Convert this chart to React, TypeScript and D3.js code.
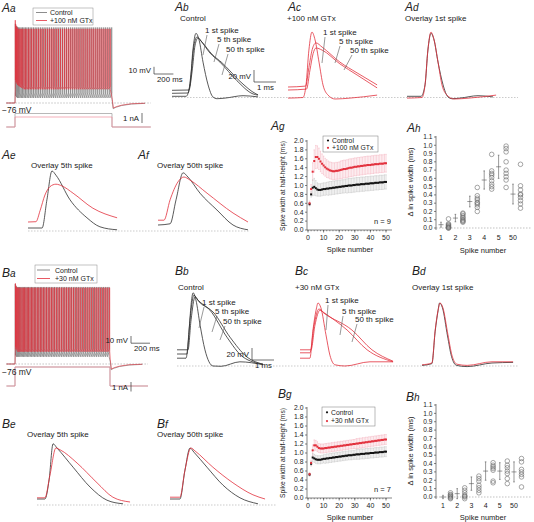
import React from 'react';
import * as d3 from 'd3';

const FONT = "'Liberation Sans', Arial, Helvetica, sans-serif";
const RED = '#e2303c';
const PINK = '#f5b6c1';
const TRAIN_GRAY = '#707070';
const DARK = '#2e2e2e';
const BAR_GRAY = '#c6c6c6';

// ---------- Aa / Ba : spike trains (time ms, membrane mV) ----------
const aaCtrlSpikeTimes = [4, 13, 24, 36, 49, 63, 77, 92, 107, 123, 139, 156, 173, 190, 208, 226, 244, 262, 281, 300, 319, 338, 357, 376, 395, 414, 433, 453, 472, 492, 512, 531, 551, 571, 591, 611, 631, 651, 671, 691, 711, 731, 751, 772, 792, 812, 833, 853, 874, 894, 915, 935, 956, 977, 997];
const aaCtrlPeaks = [34, 31, 30];
const aaCtrlAhps = [-66, -68];
const aaGtxSpikeTimes = [3, 9, 16, 24, 33, 43, 54, 66, 79, 93, 107, 122, 138, 154, 171, 188, 205, 223, 241, 259, 277, 296, 315, 334, 353, 372, 391, 410, 430, 449, 469, 489, 509, 528, 548, 568, 588, 609, 629, 649, 669, 690, 710, 731, 751, 772, 793, 813, 834, 855, 876, 897, 918, 939, 960, 981];
const aaGtxPeaks = [39, 33, 30, 29];
const aaGtxAhps = [-44, -47, -49, -51, -52, -53, -54, -55, -56];
const aaCtrlPost = [[1003, -74], [1012, -84], [1040, -82], [1100, -79.5], [1200, -77.5], [1340, -76.5]];
const aaGtxPost = [[1003, -71], [1014, -83], [1045, -81], [1100, -79], [1200, -77], [1340, -76.3]];
const aaCurrentCtrl = [[-90, 0], [0, 0], [0, 1.35], [1000, 1.35], [1000, 0], [1400, 0]];
const aaCurrentGtx = [[-90, 0], [0, 0], [0, 1], [1000, 1], [1000, 0], [1400, 0]];

const baCtrlSpikeTimes = [3, 13, 24, 36, 48, 61, 74, 87, 101, 115, 129, 143, 158, 173, 188, 203, 218, 234, 250, 266, 282, 298, 314, 331, 348, 365, 382, 399, 416, 433, 451, 469, 487, 505, 523, 541, 559, 577, 595, 613, 631, 649, 667, 685, 704, 723, 742, 761, 780, 799, 818, 837, 856, 875, 894, 913, 932, 951, 970, 989];
const baCtrlPeaks = [35, 32];
const baCtrlAhps = [-64];
const baGtxSpikeTimes = [4, 9, 17, 27, 38, 50, 62, 75, 88, 101, 115, 129, 143, 158, 173, 188, 203, 219, 235, 251, 267, 283, 299, 316, 333, 350, 367, 384, 401, 418, 436, 454, 472, 490, 508, 526, 544, 562, 580, 598, 616, 635, 654, 673, 692, 711, 730, 749, 768, 787, 806, 825, 844, 863, 882, 901, 920, 939, 958, 977, 996];
const baGtxPeaks = [36, 33, 31];
const baGtxAhps = [-52, -55, -57];
const baCtrlPost = [[1003, -73], [1012, -84], [1040, -82], [1100, -79.5], [1200, -77.5], [1340, -76.5]];
const baGtxPost = [[1003, -70], [1014, -83], [1045, -81], [1100, -79], [1200, -77], [1340, -76.3]];
const baCurrentCtrl = [[-90, 0], [0, 0], [0, 2], [1000, 2], [1000, 0], [1400, 0]];
const baCurrentGtx = [[-90, 0], [0, 0], [0, 2], [1000, 2], [1000, 0], [1400, 0]];

// ---------- overlay spike waveforms ([ms, mV]) ----------
const ovCtrlA1 = [[0, -68], [0.64, -68], [0.82, -49], [0.95, 9], [1.09, 37], [1.23, 26], [1.41, -11], [1.64, -49], [1.86, -69], [2.05, -72], [2.41, -71], [3.23, -67], [3.91, -69]];
const ovCtrlA5 = [[0, -63], [0.73, -62.5], [0.86, -32], [1.0, 17], [1.14, 31], [1.32, 24], [1.73, 4], [2.18, -11], [2.95, -42], [3.68, -64], [3.91, -66]];
const ovCtrlA50 = [[0, -58], [0.77, -57.5], [0.91, -27.5], [1.05, 17.5], [1.18, 29], [1.36, 22.5], [1.82, 2], [2.27, -12], [3.09, -43], [3.82, -64], [3.91, -65.5]];
const ovGtxA1 = [[0, -71], [0.68, -70], [0.82, -49], [0.95, 9], [1.09, 39], [1.23, 26], [1.41, -11], [1.59, -49], [1.82, -66], [2.14, -72.5], [2.82, -71], [4.05, -66]];
const ovGtxA5 = [[0, -52.5], [0.8, -51], [0.95, -20], [1.1, 10], [1.27, 21], [1.55, 14], [2.36, -11], [3.14, -29], [4.05, -49]];
const ovGtxA50 = [[0, -57.5], [0.84, -56], [1.0, -24], [1.14, 3], [1.27, 12.5], [1.55, 9], [2.36, -14], [3.14, -32.5], [4.05, -54]];
const ovCtrlAe = [[0, -65], [0.64, -65], [0.86, -18], [1.09, 30], [1.27, 23], [1.91, -18], [2.68, -48], [3.27, -63], [4.05, -68]];
const ovGtxAe = [[0, -55], [0.36, -54.5], [0.55, -36], [0.77, -10], [1.0, 4], [1.27, 8], [1.55, 5], [2.05, -7], [2.95, -32], [4.05, -48]];
const ovCtrlAf = [[0, -60], [0.55, -58], [0.82, -18], [1.14, 27], [1.36, 20], [1.91, -7], [2.68, -35], [3.41, -60], [4.09, -68]];
const ovGtxAf = [[0, -52], [0.27, -52], [0.55, -18], [0.91, 12], [1.18, 20], [1.45, 15], [2.23, -7], [3.41, -40], [4.09, -55]];
const ovCtrlB1 = [[0, -57], [0.41, -57], [0.55, -10], [0.64, 32], [0.73, 52], [0.86, 40], [1.05, -2], [1.27, -43], [1.64, -70], [2.0, -70.5], [2.86, -63], [3.91, -68]];
const ovCtrlB5 = [[0, -50], [0.45, -50], [0.59, 7], [0.77, 48], [0.95, 40], [1.5, 23], [2.27, -22], [3.0, -55], [3.91, -67]];
const ovCtrlB50 = [[0, -43], [0.5, -43], [0.64, 7], [0.82, 45], [1.0, 37], [1.64, 20], [2.41, -22], [3.18, -55], [3.91, -67]];
const ovGtxB1 = [[0, -57], [0.45, -57], [0.59, -10], [0.73, 23], [0.82, 35], [0.95, 27], [1.18, -18], [1.36, -52], [1.59, -68], [2.05, -70], [3.18, -63], [4.23, -63]];
const ovGtxB5 = [[0, -48], [0.45, -48], [0.64, -2], [0.86, 25], [1.05, 20], [2.14, -10], [3.05, -43], [4.23, -63]];
const ovGtxB50 = [[0, -43], [0.5, -43], [0.68, -2], [0.91, 23], [1.09, 18], [2.36, -10], [3.27, -43], [4.23, -62]];
const ovCtrlBd = [[0, -69], [0.45, -66], [0.6, -12], [0.73, 22], [0.8, 35], [0.93, 27], [1.16, -20], [1.34, -54], [1.57, -69], [2.05, -71], [3.18, -65], [4.14, -64]];
const ovGtxBd = [[0, -68], [0.45, -65], [0.6, -10], [0.73, 23], [0.82, 35], [0.95, 27], [1.18, -18], [1.36, -52], [1.59, -67], [2.05, -69], [3.18, -63], [4.14, -63]];
const ovCtrlBe = [[0, -60], [0.36, -60], [0.55, -28], [0.73, 32], [0.91, 25], [1.64, -7], [2.41, -40], [3.18, -62], [3.91, -68]];
const ovGtxBe = [[0, -58], [0.36, -58], [0.59, -20], [0.86, 25], [1.05, 22], [1.82, 0], [2.73, -33], [3.45, -57], [4.23, -65]];
const ovCtrlBf = [[0, -60], [0.45, -60], [0.68, -12], [0.91, 25], [1.09, 18], [1.68, -7], [2.41, -37], [3.18, -58], [4.0, -68]];
const ovGtxBf = [[0, -57], [0.45, -57], [0.68, -12], [0.95, 25], [1.14, 20], [1.95, -7], [2.86, -33], [3.77, -53], [4.32, -60]];

// ---------- Ag / Bg : spike width at half height (ms), spikes 1..50 ----------
const ctrlWidthA = [0.58, 0.80, 0.95, 0.97, 0.94, 0.91, 0.90, 0.90, 0.91, 0.92, 0.92, 0.93, 0.93, 0.94, 0.94, 0.95, 0.95, 0.96, 0.96, 0.97, 0.97, 0.98, 0.98, 0.99, 0.99, 1.00, 1.00, 1.00, 1.01, 1.01, 1.02, 1.02, 1.02, 1.03, 1.03, 1.03, 1.04, 1.04, 1.04, 1.05, 1.05, 1.05, 1.06, 1.06, 1.06, 1.07, 1.07, 1.07, 1.08, 1.08];
const ctrlSdA = [0.04, 0.06, 0.18, 0.19, 0.17, 0.15, 0.14, 0.14, 0.14, 0.14, 0.14, 0.14, 0.15, 0.15, 0.15, 0.15, 0.15, 0.15, 0.15, 0.15, 0.15, 0.15, 0.15, 0.15, 0.16, 0.16, 0.16, 0.16, 0.16, 0.16, 0.16, 0.16, 0.16, 0.16, 0.16, 0.16, 0.16, 0.16, 0.16, 0.16, 0.16, 0.16, 0.16, 0.16, 0.16, 0.16, 0.16, 0.16, 0.16, 0.16];
const gtxWidthA = [0.60, 0.92, 1.31, 1.55, 1.64, 1.64, 1.60, 1.54, 1.49, 1.45, 1.41, 1.38, 1.36, 1.34, 1.33, 1.32, 1.32, 1.33, 1.33, 1.34, 1.35, 1.36, 1.37, 1.37, 1.38, 1.39, 1.40, 1.40, 1.41, 1.42, 1.42, 1.43, 1.43, 1.44, 1.44, 1.45, 1.45, 1.46, 1.46, 1.46, 1.47, 1.47, 1.48, 1.48, 1.48, 1.49, 1.49, 1.49, 1.50, 1.50];
const gtxSdA = [0.05, 0.10, 0.20, 0.25, 0.26, 0.25, 0.24, 0.23, 0.22, 0.21, 0.20, 0.20, 0.19, 0.19, 0.19, 0.19, 0.19, 0.19, 0.19, 0.19, 0.20, 0.20, 0.20, 0.20, 0.20, 0.20, 0.20, 0.20, 0.20, 0.20, 0.20, 0.20, 0.20, 0.20, 0.20, 0.20, 0.20, 0.20, 0.20, 0.20, 0.20, 0.20, 0.20, 0.20, 0.20, 0.20, 0.20, 0.20, 0.20, 0.20];
const ctrlWidthB = [0.52, 0.76, 0.90, 0.88, 0.86, 0.85, 0.85, 0.85, 0.86, 0.87, 0.87, 0.88, 0.88, 0.89, 0.89, 0.90, 0.90, 0.91, 0.91, 0.92, 0.92, 0.93, 0.93, 0.94, 0.94, 0.95, 0.95, 0.95, 0.96, 0.96, 0.97, 0.97, 0.97, 0.98, 0.98, 0.98, 0.99, 0.99, 0.99, 1.00, 1.00, 1.00, 1.01, 1.01, 1.01, 1.02, 1.02, 1.02, 1.03, 1.03];
const ctrlSdB = [0.03, 0.05, 0.09, 0.09, 0.09, 0.09, 0.09, 0.09, 0.09, 0.09, 0.10, 0.10, 0.10, 0.10, 0.10, 0.10, 0.10, 0.10, 0.10, 0.10, 0.10, 0.10, 0.10, 0.10, 0.10, 0.10, 0.10, 0.10, 0.10, 0.10, 0.11, 0.11, 0.11, 0.11, 0.11, 0.11, 0.11, 0.11, 0.11, 0.11, 0.11, 0.11, 0.11, 0.11, 0.11, 0.11, 0.11, 0.11, 0.11, 0.11];
const gtxWidthB = [0.53, 0.78, 1.06, 1.17, 1.17, 1.14, 1.11, 1.10, 1.10, 1.10, 1.11, 1.11, 1.12, 1.12, 1.13, 1.13, 1.14, 1.14, 1.15, 1.15, 1.16, 1.16, 1.17, 1.17, 1.18, 1.18, 1.19, 1.19, 1.20, 1.20, 1.21, 1.21, 1.22, 1.22, 1.23, 1.23, 1.24, 1.24, 1.25, 1.25, 1.26, 1.26, 1.27, 1.27, 1.28, 1.28, 1.29, 1.29, 1.30, 1.30];
const gtxSdB = [0.04, 0.06, 0.12, 0.12, 0.11, 0.11, 0.10, 0.10, 0.10, 0.10, 0.10, 0.10, 0.10, 0.10, 0.10, 0.10, 0.10, 0.10, 0.10, 0.10, 0.10, 0.10, 0.10, 0.10, 0.10, 0.10, 0.10, 0.10, 0.10, 0.10, 0.11, 0.11, 0.11, 0.11, 0.11, 0.11, 0.11, 0.11, 0.11, 0.11, 0.11, 0.11, 0.11, 0.11, 0.11, 0.11, 0.11, 0.11, 0.11, 0.11];

// ---------- Ah / Bh : change in spike width (ms) ----------
const spikeCategories = ['1', '2', '3', '4', '5', '50'];
const deltaMeanA = [0.04, 0.12, 0.32, 0.58, 0.74, 0.41];
const deltaSdA = [0.03, 0.045, 0.065, 0.11, 0.14, 0.12];
const deltaCellsA = [
  [0.0, 0.0, 0.01, 0.01, 0.02, 0.03, 0.04, 0.05, 0.11],
  [0.07, 0.08, 0.09, 0.10, 0.12, 0.13, 0.15, 0.17, 0.18],
  [0.20, 0.25, 0.28, 0.30, 0.31, 0.34, 0.36, 0.39, 0.49],
  [0.47, 0.50, 0.53, 0.57, 0.61, 0.64, 0.66, 0.69, 0.89],
  [0.49, 0.58, 0.62, 0.66, 0.70, 0.80, 0.92, 0.96, 0.99],
  [0.24, 0.29, 0.33, 0.37, 0.40, 0.41, 0.46, 0.51, 0.77],
];
const deltaMeanB = [0.0, 0.04, 0.16, 0.31, 0.31, 0.30];
const deltaSdB = [0.02, 0.06, 0.08, 0.11, 0.10, 0.12];
const deltaCellsB = [
  [-0.02, -0.01, 0.0, 0.01, 0.02, 0.03, 0.05],
  [-0.02, 0.0, 0.01, 0.02, 0.05, 0.08, 0.11],
  [0.05, 0.08, 0.11, 0.14, 0.19, 0.22, 0.25],
  [0.17, 0.19, 0.32, 0.34, 0.36, 0.38, 0.41],
  [0.16, 0.22, 0.28, 0.31, 0.35, 0.38, 0.43],
  [0.12, 0.24, 0.27, 0.30, 0.33, 0.42, 0.46],
];

type Pt = number[];

function PanelLabel({ x, y, a, b }: { x: number; y: number; a: string; b: string }) {
  return (
    <text x={x} y={y} fontStyle="italic" fill="#222">
      <tspan fontSize={12}>{a}</tspan>
      <tspan fontSize={10}>{b}</tspan>
    </text>
  );
}

function trainPoints(times: number[], peaks: number[], peakDefault: number, ahps: number[], ahpDefault: number, rise: number, post: Pt[]) {
  const pts: Pt[] = [[-90, -76], [0, -76]];
  times.forEach((t, i) => {
    const prevAhp = i === 0 ? -64 : (ahps[i - 1] ?? ahpDefault);
    pts.push([t - 1, prevAhp + rise]);
    pts.push([t, peaks[i] ?? peakDefault]);
    pts.push([t + 1.5, ahps[i] ?? ahpDefault]);
  });
  post.forEach((p) => pts.push(p));
  return pts;
}

function TrainPanel(props: {
  x0: number; x1: number; yRest: number; yI0: number; iPx: number;
  ctrl: Pt[]; gtx: Pt[]; iCtrl: Pt[]; iGtx: Pt[];
}) {
  const { x0, x1, yRest, yI0, iPx, ctrl, gtx, iCtrl, iGtx } = props;
  const x = d3.scaleLinear().domain([0, 1000]).range([x0, x1]);
  const y = d3.scaleLinear().domain([-76, 0]).range([yRest, yRest - 76 * 0.72]);
  const yi = d3.scaleLinear().domain([0, 1]).range([yI0, yI0 - iPx]);
  const line = d3.line<Pt>().x((d) => x(d[0])).y((d) => y(d[1]));
  const iline = d3.line<Pt>().x((d) => x(d[0])).y((d) => yi(d[1]));
  return (
    <g>
      <line x1={x(-90)} x2={x(1400)} y1={y(-76)} y2={y(-76)} stroke="#9a9a9a" strokeWidth={0.6} strokeDasharray="1.5 1.5" />
      <path d={line(ctrl) || ''} fill="none" stroke={TRAIN_GRAY} strokeWidth={0.6} />
      <path d={line(gtx) || ''} fill="none" stroke={RED} strokeWidth={0.6} />
      <path d={iline(iCtrl) || ''} fill="none" stroke="#9a9a9a" strokeWidth={0.7} />
      <path d={iline(iGtx) || ''} fill="none" stroke="#ef8c9b" strokeWidth={0.7} />
    </g>
  );
}

function Overlay({ x0, yDash, traces }: { x0: number; yDash: number; traces: { d: Pt[]; c: string; w?: number }[] }) {
  const x = d3.scaleLinear().domain([0, 1]).range([x0, x0 + 22]);
  const y = d3.scaleLinear().domain([-70, 0]).range([yDash, yDash - 42]);
  const line = d3.line<Pt>().x((d) => x(d[0])).y((d) => y(d[1])).curve(d3.curveMonotoneX);
  return (
    <g>
      {traces.map((t, i) => (
        <path key={i} d={line(t.d) || ''} fill="none" stroke={t.c} strokeWidth={t.w ?? 0.8} />
      ))}
    </g>
  );
}

function ScaleBarMs({ x, y, mvLabel, mvPx, msLabel, msPx, fs }: { x: number; y: number; mvLabel: string; mvPx: number; msLabel: string; msPx: number; fs: number }) {
  return (
    <g fill="#222" fontSize={fs}>
      <path d={`M${x},${y - mvPx}V${y}H${x + msPx}`} fill="none" stroke="#333" strokeWidth={0.7} />
      <text x={x - 3} y={y - mvPx / 2 + 3} textAnchor="end">{mvLabel}</text>
      <text x={x + 3} y={y + 8}>{msLabel}</text>
    </g>
  );
}

function SpikeLabels({ items }: { items: { t: string; x: number; y: number; l: number[] }[] }) {
  return (
    <g fontSize={8} fill="#222">
      {items.map((it, i) => (
        <g key={i}>
          <text x={it.x} y={it.y}>{it.t}</text>
          <line x1={it.l[0]} y1={it.l[1]} x2={it.l[2]} y2={it.l[3]} stroke="#555" strokeWidth={0.6} />
        </g>
      ))}
    </g>
  );
}

function WidthPanel(props: {
  y0: number; y1: number; ctrl: number[]; ctrlSd: number[]; gtx: number[]; gtxSd: number[];
  gtxLabel: string; nLabel: string; legend: number[]; tickY: number; titleY: number; ylabY: number;
}) {
  const { y0, y1, ctrl, ctrlSd, gtx, gtxSd, gtxLabel, nLabel, legend, tickY, titleY, ylabY } = props;
  const x = d3.scaleLinear().domain([0, 50]).range([308, 386]);
  const y = d3.scaleLinear().domain([0, 2]).range([y0, y1]);
  const nums = d3.range(1, ctrl.length + 1);
  const yTicks = d3.range(0, 2.001, 0.2);
  const xMajor = d3.range(0, 51, 10);
  const xMinor = d3.range(0, 51, 2);
  const fmt = d3.format('.1f');
  const bars = (vals: number[], sds: number[], color: string) =>
    vals.map((v, i) => {
      const cx = x(nums[i]);
      return (
        <g key={i} stroke={color} strokeWidth={0.6}>
          <line x1={cx} x2={cx} y1={y(v - sds[i])} y2={y(v + sds[i])} />
          <line x1={cx - 0.7} x2={cx + 0.7} y1={y(v - sds[i])} y2={y(v - sds[i])} />
          <line x1={cx - 0.7} x2={cx + 0.7} y1={y(v + sds[i])} y2={y(v + sds[i])} />
        </g>
      );
    });
  return (
    <g>
      {bars(gtx, gtxSd, PINK)}
      {bars(ctrl, ctrlSd, BAR_GRAY)}
      {ctrl.map((v, i) => <rect key={'c' + i} x={x(nums[i]) - 1} y={y(v) - 1} width={2} height={2} fill="#111" />)}
      {gtx.map((v, i) => <rect key={'g' + i} x={x(nums[i]) - 1} y={y(v) - 1} width={2} height={2} fill={RED} />)}
      <line x1={307} x2={307} y1={y(2) - 1} y2={y(0)} stroke="#333" strokeWidth={0.6} />
      <line x1={307} x2={392} y1={y(0)} y2={y(0)} stroke="#333" strokeWidth={0.6} />
      {yTicks.map((t, i) => (
        <g key={i}>
          <line x1={305} x2={307} y1={y(t)} y2={y(t)} stroke="#333" strokeWidth={0.6} />
          <text x={303.5} y={y(t) + 2.3} fontSize={6.8} textAnchor="end" fill="#222">{fmt(t)}</text>
        </g>
      ))}
      {xMinor.map((t, i) => <line key={i} x1={x(t)} x2={x(t)} y1={y(0)} y2={y(0) + 1.3} stroke="#333" strokeWidth={0.5} />)}
      {xMajor.map((t, i) => (
        <g key={i}>
          <line x1={x(t)} x2={x(t)} y1={y(0)} y2={y(0) + 2.5} stroke="#333" strokeWidth={0.6} />
          <text x={x(t)} y={tickY} fontSize={7} textAnchor="middle" fill="#222">{t}</text>
        </g>
      ))}
      <text x={350} y={titleY} fontSize={7.5} textAnchor="middle" fill="#222">Spike number</text>
      <text transform={`translate(285,${ylabY}) rotate(-90)`} fontSize={6.7} textAnchor="middle" fill="#222">Spike width at half-height (ms)</text>
      <rect x={legend[0]} y={legend[1]} width={legend[2]} height={legend[3]} fill="#fff" stroke="#777" strokeWidth={0.5} />
      <circle cx={legend[0] + 5} cy={legend[1] + legend[3] * 0.28} r={1.1} fill="#111" />
      <text x={legend[0] + 9} y={legend[1] + legend[3] * 0.28 + 2.3} fontSize={6.8} fill="#222">Control</text>
      <circle cx={legend[0] + 5} cy={legend[1] + legend[3] * 0.74} r={1.1} fill={RED} />
      <text x={legend[0] + 9} y={legend[1] + legend[3] * 0.74 + 2.3} fontSize={6.8} fill="#222">{gtxLabel}</text>
      <text x={374} y={y(0) - 6} fontSize={7.5} fill="#222">{nLabel}</text>
    </g>
  );
}

function DeltaPanel(props: { y0: number; y1: number; xr: number[]; means: number[]; sds: number[]; cells: number[][]; tickY: number; titleY: number; ylabY: number }) {
  const { y0, y1, xr, means, sds, cells, tickY, titleY, ylabY } = props;
  const x = d3.scalePoint<string>().domain(spikeCategories).range([xr[0], xr[1]]);
  const y = d3.scaleLinear().domain([0, 1.1]).range([y0, y1]);
  const ticks = d3.range(0, 1.1001, 0.1);
  const fmt = d3.format('.1f');
  return (
    <g>
      <line x1={436} x2={532} y1={y(0)} y2={y(0)} stroke="#999" strokeWidth={0.6} strokeDasharray="1.5 1.5" />
      <line x1={436} x2={436} y1={y(1.1) - 1} y2={y(0) + 2} stroke="#333" strokeWidth={0.6} />
      {ticks.map((t, i) => (
        <g key={i}>
          <line x1={434} x2={436} y1={y(t)} y2={y(t)} stroke="#333" strokeWidth={0.6} />
          <text x={432.5} y={y(t) + 2.3} fontSize={6.6} textAnchor="end" fill="#222">{fmt(t)}</text>
        </g>
      ))}
      {spikeCategories.map((c, i) => {
        const cx = x(c) as number;
        return (
          <g key={c}>
            <text x={cx} y={tickY} fontSize={7} textAnchor="middle" fill="#222">{c}</text>
            <g stroke="#555" strokeWidth={0.6}>
              <line x1={cx} x2={cx} y1={y(means[i] - sds[i])} y2={y(means[i] + sds[i])} />
              <line x1={cx - 2.5} x2={cx + 2.5} y1={y(means[i])} y2={y(means[i])} />
              <line x1={cx - 0.8} x2={cx + 0.8} y1={y(means[i] - sds[i])} y2={y(means[i] - sds[i])} />
              <line x1={cx - 0.8} x2={cx + 0.8} y1={y(means[i] + sds[i])} y2={y(means[i] + sds[i])} />
            </g>
            {cells[i].map((v, j) => (
              <circle key={j} cx={cx + 7.5} cy={y(v)} r={2.3} fill="none" stroke="#6a6a6a" strokeWidth={0.6} />
            ))}
          </g>
        );
      })}
      <text x={483} y={titleY} fontSize={7.5} textAnchor="middle" fill="#222">Spike number</text>
      <text transform={`translate(413,${ylabY}) rotate(-90)`} fontSize={7.5} textAnchor="middle" fill="#222">Δ in spike width (ms)</text>
    </g>
  );
}

export default function App() {
  const aaCtrl = trainPoints(aaCtrlSpikeTimes, aaCtrlPeaks, 29, aaCtrlAhps, -69, 7, aaCtrlPost);
  const aaGtx = trainPoints(aaGtxSpikeTimes, aaGtxPeaks, 27, aaGtxAhps, -57, 4, aaGtxPost);
  const baCtrl = trainPoints(baCtrlSpikeTimes, baCtrlPeaks, 31, baCtrlAhps, -66, 6, baCtrlPost);
  const baGtx = trainPoints(baGtxSpikeTimes, baGtxPeaks, 30, baGtxAhps, -59, 4, baGtxPost);
  const dash = (x1: number, x2: number, yy: number) => (
    <line x1={x1} x2={x2} y1={yy} y2={yy} stroke="#a8a8a8" strokeWidth={0.6} strokeDasharray="1.5 1.5" />
  );
  return (
    <svg width={534} height={522} viewBox="0 0 534 522" fontFamily={FONT}
      style={{ position: 'absolute', left: 0, top: 0, background: '#fff' }}>
      <rect width={534} height={522} fill="#fff" />

      {/* ================= Row A ================= */}
      <PanelLabel x={2} y={12} a="A" b="a" />
      <TrainPanel x0={15} x1={112} yRest={103} yI0={127} iPx={10} ctrl={aaCtrl} gtx={aaGtx} iCtrl={aaCurrentCtrl} iGtx={aaCurrentGtx} />
      <rect x={33} y={8} width={60} height={17} fill="#fff" stroke="#888" strokeWidth={0.5} />
      <line x1={36} x2={47} y1={12.5} y2={12.5} stroke={TRAIN_GRAY} strokeWidth={0.8} />
      <line x1={36} x2={47} y1={20.5} y2={20.5} stroke={RED} strokeWidth={0.8} />
      <text x={50} y={15} fontSize={7} fill="#222">Control</text>
      <text x={50} y={23} fontSize={7} fill="#222">+100 nM GTx</text>
      <text x={2} y={113} fontSize={8.5} fill="#222">−76 mV</text>
      <ScaleBarMs x={154} y={74} mvLabel="10 mV" mvPx={7.2} msLabel="200 ms" msPx={19.4} fs={7.8} />
      <line x1={142} x2={142} y1={113} y2={123} stroke="#333" strokeWidth={0.7} />
      <text x={139} y={121} fontSize={7.8} textAnchor="end" fill="#222">1 nA</text>

      <PanelLabel x={175} y={10.5} a="A" b="b" />
      <text x={180} y={21} fontSize={8} fill="#222">Control</text>
      {dash(172, 518, 97.5)}
      <Overlay x0={172} yDash={97.5} traces={[{ d: ovCtrlA1, c: DARK }, { d: ovCtrlA5, c: DARK }, { d: ovCtrlA50, c: DARK }]} />
      <SpikeLabels items={[
        { t: '1 st spike', x: 205, y: 33, l: [207, 35, 203, 55] },
        { t: '5 th spike', x: 217, y: 42, l: [219, 44, 214, 62] },
        { t: '50 th spike', x: 226, y: 52, l: [228, 54, 222, 75] },
      ]} />
      <ScaleBarMs x={254} y={82} mvLabel="20 mV" mvPx={12} msLabel="1 ms" msPx={22} fs={7.8} />

      <PanelLabel x={288} y={10.5} a="A" b="c" />
      <text x={287} y={21} fontSize={8} fill="#222">+100 nM GTx</text>
      <Overlay x0={288} yDash={97.5} traces={[{ d: ovGtxA1, c: RED }, { d: ovGtxA5, c: RED }, { d: ovGtxA50, c: RED }]} />
      <SpikeLabels items={[
        { t: '1 st spike', x: 323, y: 35, l: [325, 37, 322, 63] },
        { t: '5 th spike', x: 339, y: 44, l: [340, 46, 335, 63] },
        { t: '50 th spike', x: 350, y: 53, l: [352, 55, 344, 70] },
      ]} />

      <PanelLabel x={405} y={10.5} a="A" b="d" />
      <text x={405} y={21} fontSize={8} fill="#222">Overlay 1st spike</text>
      <Overlay x0={407} yDash={97.5} traces={[{ d: ovCtrlA1, c: DARK }, { d: ovGtxA1, c: RED }]} />

      {/* Ae / Af */}
      <PanelLabel x={2} y={159} a="A" b="e" />
      <text x={31} y={167.5} fontSize={8} fill="#222">Overlay 5th spike</text>
      {dash(28, 250, 231)}
      <Overlay x0={28} yDash={231} traces={[{ d: ovCtrlAe, c: DARK }, { d: ovGtxAe, c: RED }]} />
      <PanelLabel x={138} y={159} a="A" b="f" />
      <text x={157} y={167.5} fontSize={8} fill="#222">Overlay 50th spike</text>
      <Overlay x0={158} yDash={231} traces={[{ d: ovCtrlAf, c: DARK }, { d: ovGtxAf, c: RED }]} />

      {/* Ag / Ah */}
      <PanelLabel x={271} y={130} a="A" b="g" />
      <WidthPanel y0={230} y1={141} ctrl={ctrlWidthA} ctrlSd={ctrlSdA} gtx={gtxWidthA} gtxSd={gtxSdA}
        gtxLabel="+100 nM GTx" nLabel="n = 9" legend={[323, 136, 55, 16]} tickY={239.5} titleY={252} ylabY={186} />
      <PanelLabel x={407} y={132} a="A" b="h" />
      <DeltaPanel y0={228} y1={137} xr={[441, 513]} means={deltaMeanA} sds={deltaSdA} cells={deltaCellsA} tickY={240} titleY={253} ylabY={182} />

      {/* ================= Row B ================= */}
      <PanelLabel x={2} y={277} a="B" b="a" />
      <TrainPanel x0={15} x1={110} yRest={364} yI0={386} iPx={9.5} ctrl={baCtrl} gtx={baGtx} iCtrl={baCurrentCtrl} iGtx={baCurrentGtx} />
      <rect x={35} y={265} width={62} height={18} fill="#fff" stroke="#888" strokeWidth={0.5} />
      <line x1={37} x2={50} y1={270} y2={270} stroke={TRAIN_GRAY} strokeWidth={0.8} />
      <line x1={37} x2={50} y1={278.5} y2={278.5} stroke={RED} strokeWidth={0.8} />
      <text x={55} y={272.5} fontSize={7} fill="#222">Control</text>
      <text x={55} y={281} fontSize={7} fill="#222">+30 nM GTx</text>
      <text x={2} y={375} fontSize={8.5} fill="#222">−76 mV</text>
      <ScaleBarMs x={131} y={343.2} mvLabel="10 mV" mvPx={7.2} msLabel="200 ms" msPx={19} fs={7.8} />
      <line x1={131} x2={131} y1={382} y2={391.5} stroke="#333" strokeWidth={0.7} />
      <text x={128} y={390} fontSize={7.8} textAnchor="end" fill="#222">1 nA</text>

      <PanelLabel x={175} y={275} a="B" b="b" />
      <text x={178} y={290} fontSize={8} fill="#222">Control</text>
      {dash(177, 518, 366)}
      <Overlay x0={177} yDash={366} traces={[{ d: ovCtrlB1, c: DARK }, { d: ovCtrlB5, c: DARK }, { d: ovCtrlB50, c: DARK }]} />
      <SpikeLabels items={[
        { t: '1 st spike', x: 202, y: 305, l: [204, 307, 199, 328] },
        { t: '5 th spike', x: 215, y: 314, l: [217, 316, 212, 332] },
        { t: '50 th spike', x: 223, y: 324, l: [225, 326, 220, 340] },
      ]} />
      <ScaleBarMs x={252} y={360} mvLabel="20 mV" mvPx={12} msLabel="1 ms" msPx={22} fs={7.8} />

      <PanelLabel x={295} y={275} a="B" b="c" />
      <text x={295} y={290} fontSize={8} fill="#222">+30 nM GTx</text>
      <Overlay x0={300} yDash={366} traces={[{ d: ovGtxB1, c: RED }, { d: ovGtxB5, c: RED }, { d: ovGtxB50, c: RED }]} />
      <SpikeLabels items={[
        { t: '1 st spike', x: 325, y: 303, l: [328, 305, 326, 330] },
        { t: '5 th spike', x: 342, y: 314, l: [343, 316, 340, 335] },
        { t: '50 th spike', x: 355, y: 322, l: [357, 324, 352, 342] },
      ]} />

      <PanelLabel x={412} y={275} a="B" b="d" />
      <text x={412} y={290} fontSize={8} fill="#222">Overlay 1st spike</text>
      <Overlay x0={422} yDash={366} traces={[{ d: ovCtrlBd, c: DARK }, { d: ovGtxBd, c: RED }]} />

      {/* Be / Bf */}
      <PanelLabel x={2} y={428} a="B" b="e" />
      <text x={27} y={437} fontSize={8} fill="#222">Overlay 5th spike</text>
      {dash(37, 277, 505)}
      <Overlay x0={37} yDash={505} traces={[{ d: ovCtrlBe, c: DARK }, { d: ovGtxBe, c: RED }]} />
      <PanelLabel x={157} y={428} a="B" b="f" />
      <text x={157} y={437} fontSize={8} fill="#222">Overlay 50th spike</text>
      <Overlay x0={170} yDash={505} traces={[{ d: ovCtrlBf, c: DARK }, { d: ovGtxBf, c: RED }]} />

      {/* Bg / Bh */}
      <PanelLabel x={278} y={398} a="B" b="g" />
      <WidthPanel y0={498} y1={408} ctrl={ctrlWidthB} ctrlSd={ctrlSdB} gtx={gtxWidthB} gtxSd={gtxSdB}
        gtxLabel="+30 nM GTx" nLabel="n = 7" legend={[322, 407, 53, 19]} tickY={508} titleY={520} ylabY={453} />
      <PanelLabel x={406} y={401} a="B" b="h" />
      <DeltaPanel y0={497} y1={405} xr={[443, 514]} means={deltaMeanB} sds={deltaSdB} cells={deltaCellsB} tickY={508} titleY={520} ylabY={451} />
    </svg>
  );
}
